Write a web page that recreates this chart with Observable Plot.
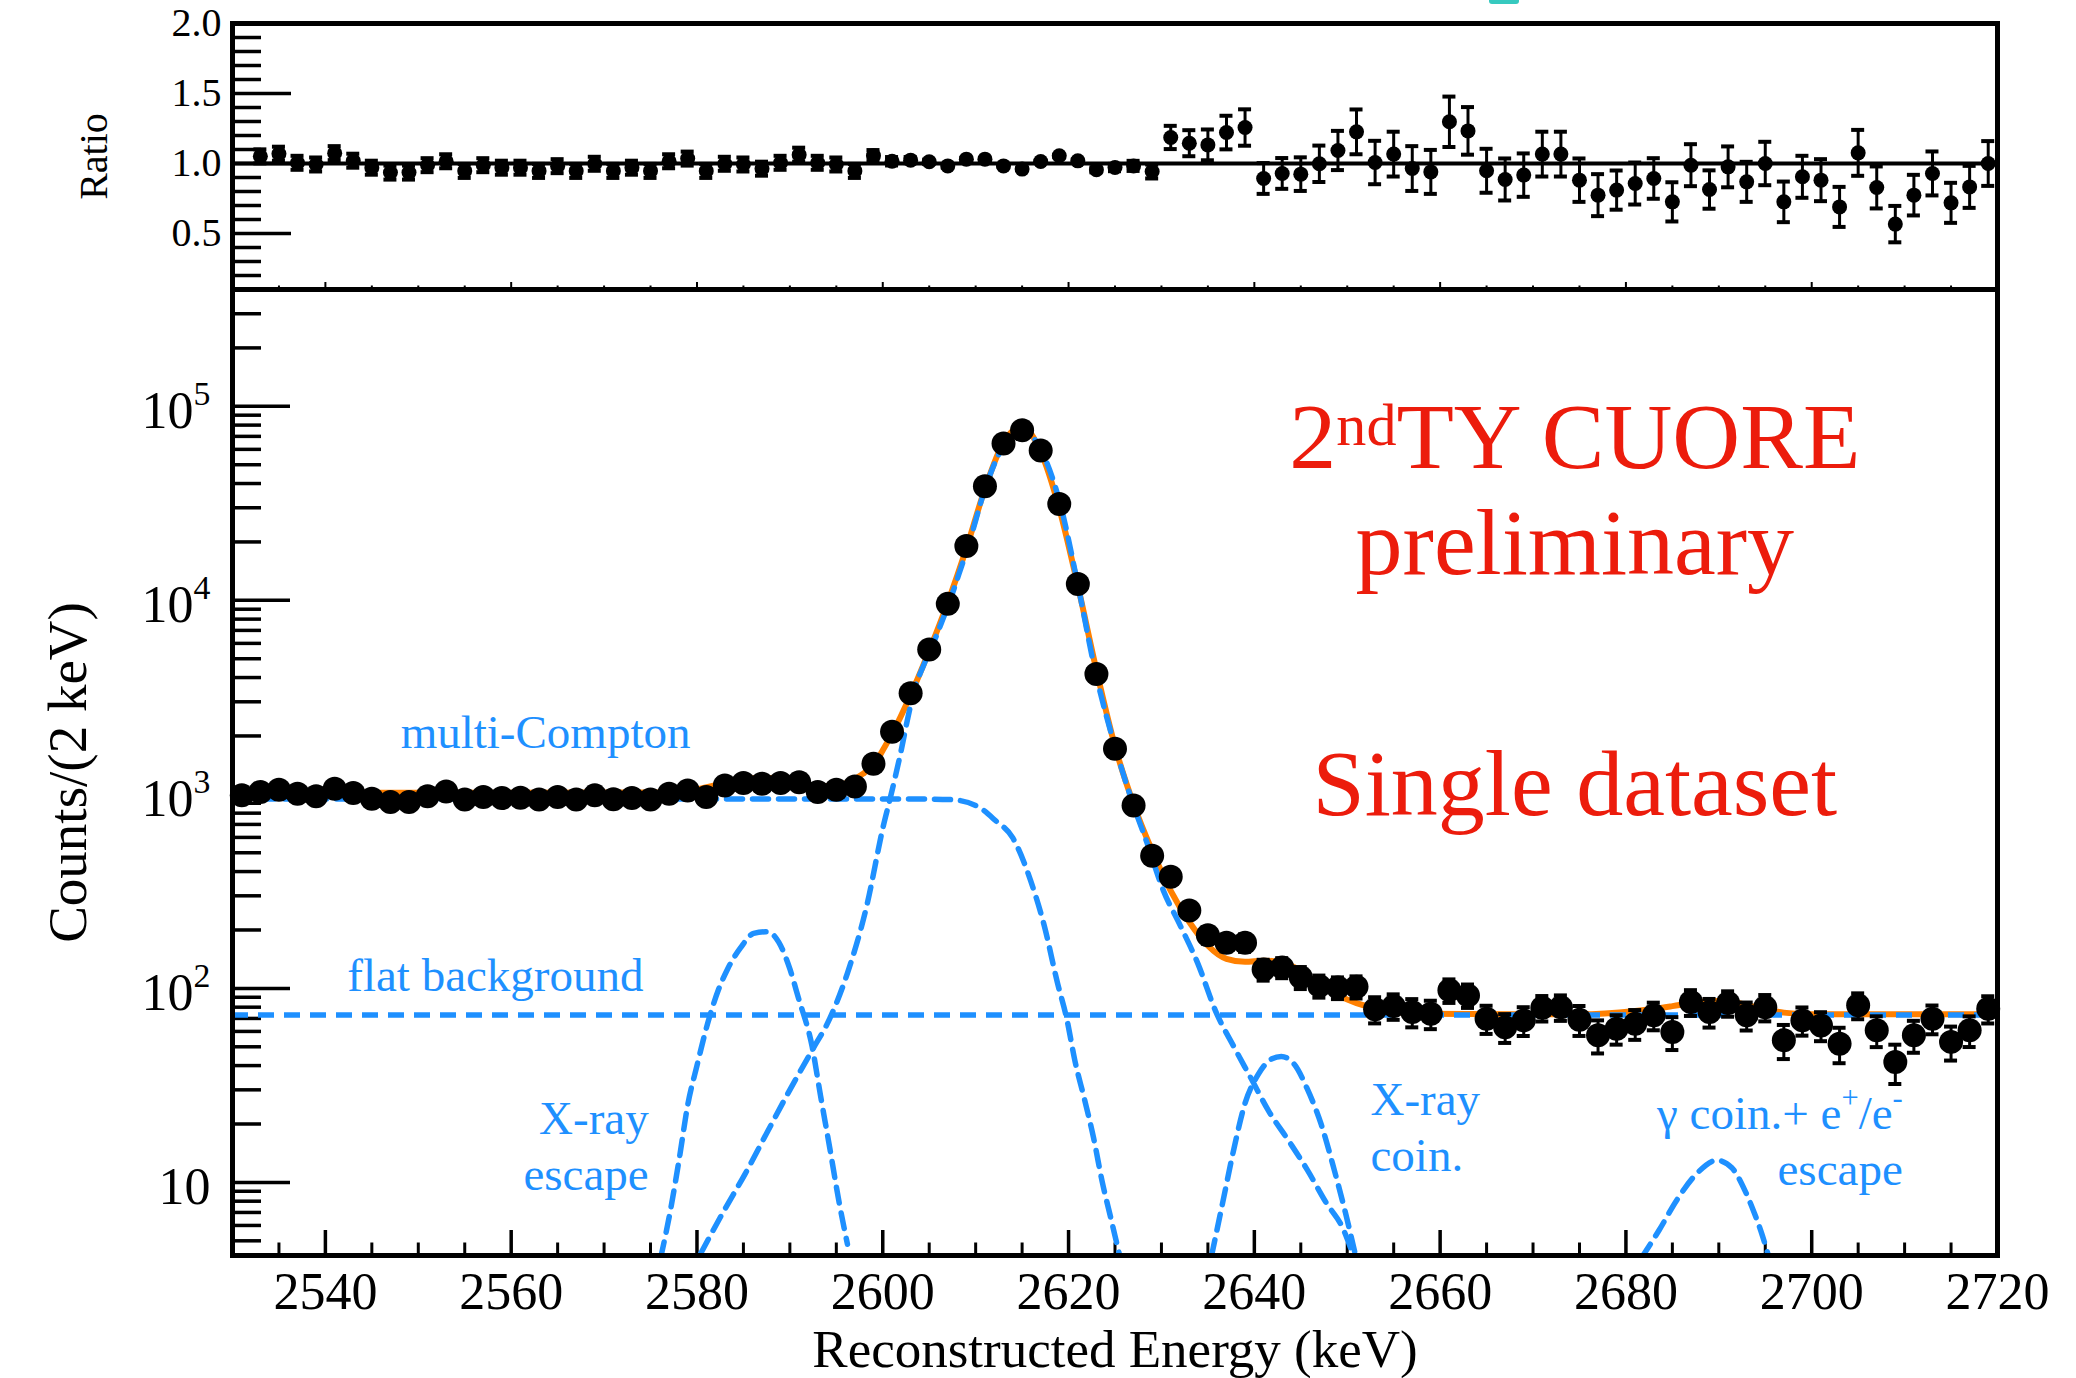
<!DOCTYPE html>
<html>
<head>
<meta charset="utf-8">
<title>208Tl line fit — single dataset</title>
<script src="https://cdn.jsdelivr.net/npm/d3@7"></script>
<script src="https://cdn.jsdelivr.net/npm/@observablehq/plot@0.6"></script>
<style>
  html, body { margin: 0; padding: 0; background: #fff; overflow: hidden; }
  #chart { position: relative; width: 2076px; height: 1378px; overflow: hidden; background: #fff; }
  #chart svg { position: absolute; left: 0; top: 0; }
  #tab { position: absolute; left: 1489px; top: 0; width: 30px; height: 4px; background: #36c9bf; border-radius: 0 0 3px 3px; }
</style>
</head>
<body>
<div id="chart"><div id="tab"></div></div>
<script>
// ---------- binned spectrum (2 keV bins, centres) ----------
const energy = [
  2531, 2533, 2535, 2537, 2539, 2541, 2543, 2545, 2547, 2549,
  2551, 2553, 2555, 2557, 2559, 2561, 2563, 2565, 2567, 2569,
  2571, 2573, 2575, 2577, 2579, 2581, 2583, 2585, 2587, 2589,
  2591, 2593, 2595, 2597, 2599, 2601, 2603, 2605, 2607, 2609,
  2611, 2613, 2615, 2617, 2619, 2621, 2623, 2625, 2627, 2629,
  2631, 2633, 2635, 2637, 2639, 2641, 2643, 2645, 2647, 2649,
  2651, 2653, 2655, 2657, 2659, 2661, 2663, 2665, 2667, 2669,
  2671, 2673, 2675, 2677, 2679, 2681, 2683, 2685, 2687, 2689,
  2691, 2693, 2695, 2697, 2699, 2701, 2703, 2705, 2707, 2709,
  2711, 2713, 2715, 2717, 2719
];
const counts = [
  988, 1028, 1057, 1008, 977, 1069, 1016, 950, 912, 912,
  977, 1035, 940, 968, 957, 961, 940, 968, 940, 988,
  944, 957, 940, 1008, 1046, 968, 1112, 1143, 1135, 1143,
  1156, 1028, 1057, 1099, 1439, 2100, 3320, 5580, 9590, 19050,
  38700, 64300, 75300, 59200, 31400, 12150, 4170, 1720, 875, 483,
  376, 252, 188, 172, 172, 125, 128, 114, 103, 101,
  102, 78, 81, 75.5, 74, 97.7, 92, 69.8, 63, 68.4,
  79.4, 80, 69, 57.3, 62, 65.8, 72.6, 59.6, 85, 75.5,
  84, 72.6, 80, 54, 68.4, 64.4, 51.9, 81.8, 60.8, 41.7,
  57.3, 69.8, 53, 60.8, 78.5
];
// data / fit ratio and its uncertainty (first bin has no ratio point)
const ratio = [
  null, 1.051, 1.07, 1.005, 0.993, 1.074, 1.02, 0.97, 0.935, 0.935,
  0.988, 1.016, 0.947, 0.988, 0.97, 0.97, 0.947, 0.981, 0.947, 0.998,
  0.947, 0.97, 0.947, 1.016, 1.035, 0.947, 0.998, 0.993, 0.963, 1.005,
  1.063, 1.005, 0.993, 0.947, 1.056, 1.016, 1.024, 1.012, 0.983, 1.031,
  1.031, 0.983, 0.96, 1.014, 1.055, 1.019, 0.955, 0.971, 0.983, 0.943,
  1.186, 1.145, 1.133, 1.221, 1.257, 0.893, 0.929, 0.924, 0.998, 1.093,
  1.226, 1.007, 1.067, 0.964, 0.94, 1.298, 1.233, 0.948, 0.886, 0.917,
  1.067, 1.067, 0.881, 0.774, 0.81, 0.857, 0.893, 0.726, 0.988, 0.814,
  0.976, 0.869, 1.0, 0.726, 0.905, 0.881, 0.69, 1.076, 0.829, 0.567,
  0.774, 0.929, 0.719, 0.833, 1.0
];
const ratioErr = [
  null, 0.05, 0.05, 0.05, 0.05, 0.05, 0.05, 0.05, 0.05, 0.05,
  0.05, 0.05, 0.05, 0.05, 0.05, 0.05, 0.05, 0.05, 0.05, 0.05,
  0.05, 0.05, 0.05, 0.05, 0.05, 0.05, 0.05, 0.05, 0.05, 0.05,
  0.05, 0.05, 0.05, 0.05, 0.04, 0.03, 0.022, 0.016, 0.012, 0.009,
  0.007, 0.005, 0.005, 0.005, 0.007, 0.01, 0.018, 0.026, 0.036, 0.05,
  0.083, 0.093, 0.11, 0.12, 0.13, 0.11, 0.11, 0.12, 0.13, 0.14,
  0.16, 0.155, 0.16, 0.16, 0.157, 0.18, 0.17, 0.157, 0.15, 0.155,
  0.16, 0.16, 0.155, 0.15, 0.14, 0.15, 0.145, 0.14, 0.15, 0.137,
  0.146, 0.143, 0.155, 0.145, 0.15, 0.15, 0.143, 0.164, 0.15, 0.13,
  0.145, 0.157, 0.143, 0.15, 0.16
];

// ---------- fitted model: total and components ----------
const fitE = [2530, 2576, 2578, 2580, 2582, 2584, 2586, 2588, 2590, 2592,
  2594, 2596, 2598, 2599, 2600, 2601, 2603, 2605, 2607, 2609,
  2611, 2613, 2615, 2617, 2619, 2621, 2623, 2625, 2627, 2629,
  2631, 2633, 2635, 2637, 2639, 2641, 2643, 2645, 2647, 2649,
  2651, 2653, 2655, 2658, 2675, 2681, 2683, 2685, 2687.5, 2689.5,
  2691.5, 2693, 2695, 2697, 2700, 2720];
const fitV = [1018, 1022, 1031, 1061, 1115, 1165, 1210, 1215, 1150, 1100,
  1105, 1140, 1290, 1400, 1690, 2050, 3250, 5500, 9750, 18500,
  37600, 65300, 78300, 58400, 29800, 11900, 4370, 1770, 890, 512,
  318, 220, 166, 142, 137, 139, 136, 123, 104, 92,
  84, 79, 76, 74, 73.5, 76.5, 78.5, 81, 84.5, 86,
  85, 82, 78, 75, 73.5, 73.5];

const flatBackground = 73;

const comptonE = [2530, 2605, 2607.3, 2610.2, 2612.1, 2614.0, 2615.9, 2617.4, 2618.8, 2619.8,
  2620.7, 2621.7, 2622.7, 2623.6, 2624.6, 2625.5];
const comptonV = [945, 945, 940, 867, 735, 596, 361, 209, 107, 70,
  42, 27, 16.9, 10.2, 6.4, 4.2];

const peakE = [2580.4, 2582.8, 2585.2, 2587.6, 2590.0, 2592.4, 2594.3, 2596.2, 2598.2, 2600.1,
  2600.8, 2602.0, 2602.7, 2603.4, 2604.4, 2605.4, 2606.3, 2607.3, 2608.2, 2609.2,
  2611.1, 2613.1, 2615.1, 2617.1, 2619.1, 2621.0, 2622.9, 2625.1, 2627.0, 2628.4,
  2630.2, 2632.0, 2633.9, 2635.9, 2637.8, 2639.7, 2641.5, 2643.8, 2645.7, 2647.7,
  2649.6, 2650.5];
const peakV = [4.3, 7.0, 11.1, 18.3, 30, 48, 70, 120, 257, 700,
  955, 1700, 2480, 3460, 4630, 5940, 7620, 10200, 13670, 19060,
  38700, 63800, 75000, 58700, 31400, 12060, 4260, 1700, 875, 571,
  320, 212, 135, 75, 50, 34, 23.5, 16.1, 11.6, 7.9,
  5.7, 4.4];

const xrayEscapeE = [2576.1, 2577.1, 2578.1, 2579.0, 2580.0, 2581.3, 2582.3, 2583.3, 2584.7, 2586.1,
  2587.6, 2588.8, 2590.0, 2590.9, 2592.4, 2593.3, 2594.3, 2595.3, 2596.2];
const xrayEscapeV = [4.1, 7.0, 13.3, 25, 40, 70, 98, 126, 162, 192,
  196, 173, 126, 90, 50, 28, 15, 7.9, 4.8];

const xrayCoinE = [2635.4, 2636.6, 2637.8, 2639.0, 2640.4, 2641.9, 2642.9, 2644.3, 2645.7, 2647.2,
  2648.6, 2649.8, 2650.8];
const xrayCoinV = [4.2, 7.9, 14.9, 25.6, 35.9, 43.4, 44.6, 40.6, 30.3, 19.9,
  11.6, 7.0, 4.4];

const gammaCoinE = [2681.7, 2683.6, 2685.4, 2687.7, 2689.8, 2691.4, 2692.8, 2693.8, 2694.7, 2695.4];
const gammaCoinV = [4.1, 5.7, 8.0, 11.2, 13.0, 11.9, 9.1, 7.0, 5.3, 4.1];

// ---------- axis ticks ----------
const xMajor = [2540, 2560, 2580, 2600, 2620, 2640, 2660, 2680, 2700, 2720];
const xMinor = [2535, 2545, 2550, 2555, 2565, 2570, 2575, 2585, 2590, 2595,
  2605, 2610, 2615, 2625, 2630, 2635, 2645, 2650, 2655, 2665,
  2670, 2675, 2685, 2690, 2695, 2705, 2710, 2715];
const countMajor = [10, 100, 1000, 10000, 100000];
const countLabels = ["10", "10^{2}", "10^{3}", "10^{4}", "10^{5}"];
const countMinor = [5, 6, 7, 8, 9, 20, 30, 40, 50, 60, 70, 80, 90,
  200, 300, 400, 500, 600, 700, 800, 900,
  2000, 3000, 4000, 5000, 6000, 7000, 8000, 9000,
  20000, 30000, 40000, 50000, 60000, 70000, 80000, 90000, 200000, 300000];
const ratioMajor = [0.5, 1.0, 1.5, 2.0];
const ratioMinor = [0.2, 0.3, 0.4, 0.6, 0.7, 0.8, 0.9, 1.1, 1.2, 1.3, 1.4, 1.6, 1.7, 1.8, 1.9];

// ---------- styling / layout ----------
const FONT = "'Liberation Serif', 'Times New Roman', Times, serif";
const BLUE = "#1e90ff", ORANGE = "#ff8000", RED = "#ec1c0c";
const W = 2076, H = 1378;
const left = 232, right = 79;
const ratioTop = 23, split = 289, mainBottom = 1255;
const frameW = W - left - right;
const ratioH = split - ratioTop;
const mainH = mainBottom - split;
const DASH = "16,10";

const bins = energy.map((E, i) => ({E, counts: counts[i], ratio: ratio[i], err: ratioErr[i]}));
const withRatio = bins.filter(d => d.ratio != null);
const rel = d => d.err / d.ratio;

const componentLine = (E, V) => Plot.line(E, {x: E, y: V, stroke: BLUE, strokeWidth: 5.5,
  strokeDasharray: DASH, curve: "monotone-x", clip: true});

const note = (text, E, c, anchor, color, size) => Plot.text([text], {
  x: () => E, y: () => c, text: d => d, textAnchor: anchor, lineAnchor: "bottom",
  lineHeight: 1.19, fill: color, fontSize: size
});

// ---------- lower pad: spectrum with fit ----------
const mainPlot = Plot.plot({
  width: W, height: H,
  marginLeft: left, marginRight: right, marginTop: split, marginBottom: H - mainBottom,
  style: {fontFamily: FONT, background: "white", color: "black", overflow: "visible"},
  x: {domain: [2530, 2720], axis: null},
  y: {type: "log", domain: [4.2, 4e5], axis: null},
  marks: [
    // inward ticks
    Plot.ruleX(xMinor, {insetTop: mainH - 12.5, strokeWidth: 3}),
    Plot.ruleX(xMajor, {insetTop: mainH - 25, strokeWidth: 3.5}),
    Plot.ruleY(countMinor, {insetRight: frameW - 29, strokeWidth: 3.5}),
    Plot.ruleY(countMajor, {insetRight: frameW - 58, strokeWidth: 3.5}),
    // total fit and its components
    Plot.line(fitE, {x: fitE, y: fitV, stroke: ORANGE, strokeWidth: 6, curve: "monotone-x", clip: true}),
    Plot.ruleY([flatBackground], {stroke: BLUE, strokeWidth: 5.5, strokeDasharray: DASH}),
    componentLine(comptonE, comptonV),
    componentLine(xrayEscapeE, xrayEscapeV),
    componentLine(xrayCoinE, xrayCoinV),
    componentLine(gammaCoinE, gammaCoinV),
    componentLine(peakE, peakV),
    // data with uncertainties
    Plot.ruleX(withRatio, {x: "E", y1: d => d.counts * (1 - rel(d)), y2: d => d.counts * (1 + rel(d)), strokeWidth: 3}),
    Plot.ruleY(withRatio, {y: d => d.counts * (1 + rel(d)), x1: d => d.E - 0.7, x2: d => d.E + 0.7, strokeWidth: 4}),
    Plot.ruleY(withRatio, {y: d => d.counts * (1 - rel(d)), x1: d => d.E - 0.7, x2: d => d.E + 0.7, strokeWidth: 4}),
    Plot.dot(bins, {x: "E", y: "counts", r: 12, fill: "black"}),
    Plot.frame({strokeWidth: 5}),
    // tick labels
    Plot.text(countMajor, {y: d => d, text: countLabels, frameAnchor: "left", textAnchor: "end",
      dx: -22, dy: 5, fontSize: 52}),
    Plot.text(xMajor, {x: d => d, text: d => String(d), frameAnchor: "bottom", textAnchor: "middle",
      lineAnchor: "bottom", dy: 53, fontSize: 52}),
    // axis titles
    Plot.text(["Counts/(2 keV)"], {text: d => d, frameAnchor: "left", textAnchor: "middle", rotate: -90,
      lineAnchor: "bottom", dx: -147, fontSize: 55}),
    Plot.text(["Reconstructed Energy (keV)"], {text: d => d, frameAnchor: "bottom", textAnchor: "middle",
      lineAnchor: "bottom", dy: 111.5, fontSize: 53}),
    // annotations
    note("2^{nd}TY CUORE", 2674.5, 48100, "middle", RED, 94),
    note("preliminary", 2674.5, 13600, "middle", RED, 94),
    note("Single dataset", 2674.5, 780, "middle", RED, 94),
    note("multi-Compton", 2563.7, 1726, "middle", BLUE, 47),
    note("flat background", 2558.3, 97.5, "middle", BLUE, 47),
    note("X-ray\nescape", 2574.8, 9.1, "end", BLUE, 47),
    note("X-ray\ncoin.", 2652.5, 11.4, "start", BLUE, 47),
    note("γ coin.+ e^{+}/e^{-}\nescape", 2709.8, 9.65, "end", BLUE, 47)
  ]
});

// ---------- upper pad: data / fit ratio ----------
const ratioPlot = Plot.plot({
  width: W, height: H,
  marginLeft: left, marginRight: right, marginTop: ratioTop, marginBottom: H - split,
  style: {fontFamily: FONT, background: "transparent", color: "black", overflow: "visible"},
  x: {domain: [2530, 2720], axis: null},
  y: {domain: [0.1, 2.0], axis: null},
  marks: [
    Plot.ruleX(xMinor, {insetTop: ratioH - 3.5, strokeWidth: 2}),
    Plot.ruleX(xMajor, {insetTop: ratioH - 7, strokeWidth: 2}),
    Plot.ruleY(ratioMinor, {insetRight: frameW - 29, strokeWidth: 3.5}),
    Plot.ruleY(ratioMajor, {insetRight: frameW - 59, strokeWidth: 3.5}),
    Plot.ruleY([1], {strokeWidth: 4}),
    Plot.ruleX(withRatio, {x: "E", y1: d => d.ratio - d.err, y2: d => d.ratio + d.err, strokeWidth: 3}),
    Plot.ruleY(withRatio, {y: d => d.ratio + d.err, x1: d => d.E - 0.7, x2: d => d.E + 0.7, strokeWidth: 4}),
    Plot.ruleY(withRatio, {y: d => d.ratio - d.err, x1: d => d.E - 0.7, x2: d => d.E + 0.7, strokeWidth: 4}),
    Plot.dot(withRatio, {x: "E", y: "ratio", r: 7.5, fill: "black"}),
    Plot.frame({strokeWidth: 5}),
    Plot.text(ratioMajor, {y: d => d, text: d => d.toFixed(1), frameAnchor: "left", textAnchor: "end",
      dx: -11, fontSize: 40}),
    Plot.text(["Ratio"], {text: d => d, frameAnchor: "left", textAnchor: "middle", rotate: -90,
      lineAnchor: "bottom", dx: -126, fontSize: 40})
  ]
});

const chart = document.getElementById("chart");
chart.insertBefore(mainPlot, chart.firstChild);
chart.insertBefore(ratioPlot, mainPlot.nextSibling);

// Turn "^{...}" markup into raised, smaller tspans.
function applySuperscripts(svg) {
  svg.querySelectorAll("text").forEach(t => {
    const nodes = t.querySelector("tspan") ? Array.from(t.querySelectorAll("tspan")) : [t];
    for (const node of nodes) {
      const s = node.textContent;
      if (!s.includes("^{")) continue;
      const size = parseFloat(getComputedStyle(node).fontSize);
      const big = size >= 80;
      const supSize = (big ? 0.64 : 0.65) * size;
      const shift = (big ? 0.24 : 0.44) * size;
      node.textContent = "";
      const re = /\^\{([^}]*)\}/g;
      let last = 0, m;
      const add = (txt, sup) => {
        const ts = document.createElementNS("http://www.w3.org/2000/svg", "tspan");
        ts.textContent = txt;
        if (sup) {
          ts.setAttribute("font-size", supSize);
          ts.setAttribute("baseline-shift", shift);
        }
        node.appendChild(ts);
      };
      while ((m = re.exec(s))) {
        if (m.index > last) add(s.slice(last, m.index), false);
        add(m[1], true);
        last = re.lastIndex;
      }
      if (last < s.length) add(s.slice(last), false);
    }
  });
}
applySuperscripts(mainPlot);
applySuperscripts(ratioPlot);
</script>
</body>
</html>
